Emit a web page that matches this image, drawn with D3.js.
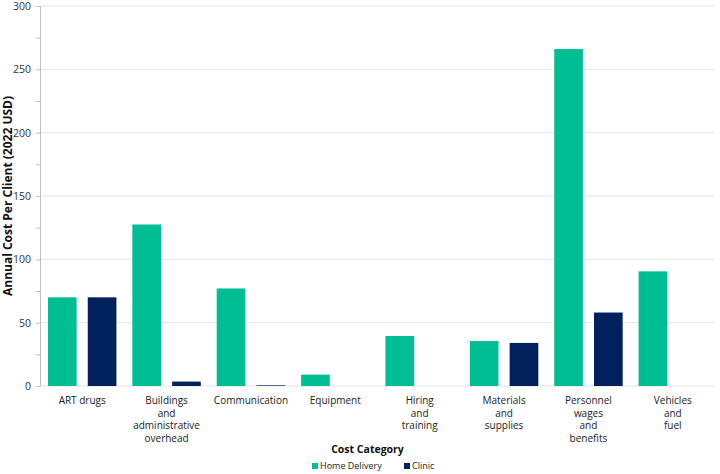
<!DOCTYPE html>
<html><head><meta charset="utf-8">
<script src="https://cdn.jsdelivr.net/npm/d3@7"></script>
<style>body{margin:0;background:#fff;}svg{display:block;font-family:"Open Sans",sans-serif;}</style>
</head><body><svg id="c" width="720" height="474"></svg>
<script>
const categories = [["ART drugs"],["Buildings","and","administrative","overhead"],["Communication"],["Equipment"],["Hiring","and","training"],["Materials","and","supplies"],["Personnel","wages","and","benefits"],["Vehicles","and","fuel"]];
const seriesNames = ["Home Delivery","Clinic"];
const homeDelivery = [70, 127.5, 77, 9, 39.5, 35.5, 266, 90.5];
const clinic = [70, 3.5, 0.5, 0, 0, 34, 58, 0];
const yTicks = [0,50,100,150,200,250,300];
const colors = ["#00BE94","#00215C"];

const svg = d3.select("#c");
const m = {l:40, r:5, t:6, b:88};
const W = 720, H = 474;
const x0 = d3.scaleBand().domain(d3.range(categories.length)).range([m.l, W - m.r]).padding(0);
const x1 = d3.scaleBand().domain([0,1]).range([0, x0.bandwidth()]).paddingInner(0.28).paddingOuter(0.2);
const y = d3.scaleLinear().domain([0,300]).range([H - m.b, m.t]);

// gridlines
svg.append("g").selectAll("line").data(yTicks.filter(d=>d>0)).join("line")
  .attr("x1", m.l).attr("x2", W - m.r - 1).attr("y1", d=>y(d)).attr("y2", d=>y(d))
  .attr("stroke","#e3e3e3").attr("stroke-width",1);

// axis
const yAxis = d3.axisLeft(y).tickValues(d3.range(0,301,25)).tickSize(4).tickFormat(d => d%50===0 ? d : "");
const ga = svg.append("g").attr("transform",`translate(${m.l},0)`).call(yAxis);
ga.select(".domain").attr("stroke","#bfbfbf");
ga.selectAll(".tick line").attr("stroke","#bfbfbf");
ga.selectAll(".tick text").attr("font-size","10.5px").attr("fill","#333").attr("font-family","Open Sans, sans-serif").attr("x",-9);
// baseline
svg.append("line").attr("x1",m.l).attr("x2",W-m.r-1).attr("y1",y(0)).attr("y2",y(0)).attr("stroke","#e3e3e3");

// bars
const data = categories.map((c,i)=>({i, vals:[homeDelivery[i], clinic[i]]}));
const g = svg.append("g").selectAll("g").data(data).join("g").attr("transform", d=>`translate(${x0(d.i)},0)`);
g.selectAll("rect").data(d=>d.vals.map((v,k)=>({v,k}))).join("rect")
  .attr("x", d=>x1(d.k)).attr("width", x1.bandwidth())
  .attr("y", d=>y(d.v)).attr("height", d=>y(0)-y(d.v))
  .attr("fill", d=>colors[d.k]);

// category labels
const cl = svg.append("g").selectAll("text").data(categories).join("text")
  .attr("text-anchor","middle").attr("font-size","10px").attr("fill","#222")
  .attr("transform",(d,i)=>`translate(${x0(i)+x0.bandwidth()/2},${y(0)+18})`);
cl.selectAll("tspan").data(d=>d).join("tspan").attr("x",0).attr("dy",(d,i)=>i===0?0:12.6).text(d=>d);

// axis titles
svg.append("text").attr("x", (m.l + W - m.r)/2 - 10).attr("y", 453).attr("text-anchor","middle")
  .attr("font-size","10.5px").attr("font-weight","bold").attr("fill","#111").text("Cost Category");
svg.append("text").attr("transform",`translate(12,${(m.t + H - m.b)/2}) rotate(-90)`).attr("text-anchor","middle")
  .attr("font-size","12px").attr("font-weight","bold").attr("fill","#111").text("Annual Cost Per Client (2022 USD)");

// legend
const legX = [312, 404];
const lg = svg.append("g").selectAll("g").data(seriesNames).join("g").attr("transform",(d,i)=>`translate(${legX[i]},469)`);
lg.append("rect").attr("x",0).attr("y",-6).attr("width",6).attr("height",6).attr("fill",(d,i)=>colors[i]);
lg.append("text").attr("x",8).attr("y",0).attr("dy","0.05em").attr("font-size","9px").attr("fill","#222").text(d=>d);
</script></body></html>
